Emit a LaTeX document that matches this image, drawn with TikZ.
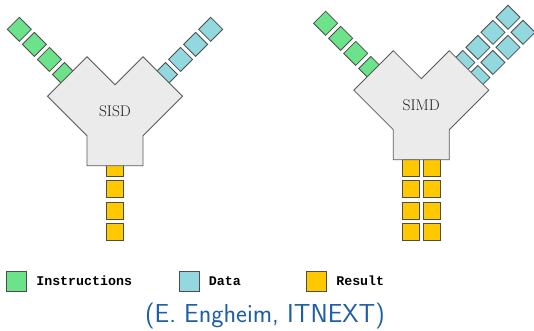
\documentclass[tikz,border=0pt]{standalone}
\usepackage{fontspec}
\newfontfamily\legendfont{Liberation Mono}
\usetikzlibrary{positioning,calc}
\definecolor{InstrGreen}{RGB}{108,227,138}
\definecolor{DataBlue}{RGB}{146,216,222}
\definecolor{ResultYellow}{RGB}{255,200,0}
\definecolor{CoreGray}{RGB}{235,235,235}
\definecolor{CaptionBlue}{RGB}{30,94,166}
\tikzset{
  cell/.style={
    draw=black!70,
    minimum size=17pt,
    inner sep=0pt,
    line width=0.8pt,
  },
  instr cell/.style={cell,fill=InstrGreen,rotate=45},
  data cell/.style={cell,fill=DataBlue,rotate=45},
  result cell/.style={cell,fill=ResultYellow},
  core/.style={
    draw=black!65,
    fill=CoreGray,
    line width=0.8pt,
    line join=miter,
  },
  core label/.style={font=\fontsize{15.5}{17}\selectfont,text=black!88},
  key box/.style={cell,minimum size=20pt},
  key text/.style={font=\legendfont\bfseries\fontsize{13.3}{15}\selectfont,inner sep=1pt},
}

\begin{document}
\begin{tikzpicture}[x=1pt,y=-1pt]
\useasboundingbox (0,0) rectangle (534,330);

\coordinate (sisd) at (115,84.7);
\coordinate (simd) at (421.3,78.7);

% SISD: one stream of instructions, one of data, one of results
\foreach \k in {0,...,3} {
  \node[instr cell] (sisd-i\k) at ($(sisd)+(-95.7,-55.4)+(15.06*\k,15.06*\k)$) {};
  \node[data cell] (sisd-d\k) at ($(sisd)+(95.7,-55.4)+(-15.06*\k,15.06*\k)$) {};
  \node[result cell] (sisd-r\k) at (114.7,168+21.3*\k) {};
}

\draw[core,shift={(sisd)}] (0,0) -- (28,-28) -- (67.5,11.5) -- (28,51) -- (28,81)
  -- (-28,81) -- (-28,51) -- (-67.5,11.5) -- (-28,-28) -- cycle;
\node[core label] (sisd-core) at ($(sisd)+(0,27)$) {SISD};

% SIMD: data and results come two at a time
\foreach \k in {0,...,3} {
  \node[instr cell] (simd-i\k) at ($(simd)+(-95.7,-55.4)+(15.06*\k,15.06*\k)$) {};
  \node[data cell] (simd-da\k) at ($(simd)+(86.7,-61.4)+(-15.06*\k,15.06*\k)$) {};
  \node[data cell] (simd-db\k) at ($(simd)+(101.7,-46.4)+(-15.06*\k,15.06*\k)$) {};
  \node[result cell] (simd-ra\k) at (410.8,168+21.3*\k) {};
  \node[result cell] (simd-rb\k) at (431.8,168+21.3*\k) {};
}

\draw[core,shift={(simd)}] (0,0) -- (28,-28) -- (67.5,11.5) -- (28,51) -- (28,81)
  -- (-28,81) -- (-28,51) -- (-67.5,11.5) -- (-28,-28) -- cycle;
\node[core label] (simd-core) at ($(simd)+(0,27)$) {SIMD};

% Legend
\node[key box,fill=InstrGreen] (key-i) at (16.7,281.2) {};
\node[key text,anchor=west,right=8pt of key-i] (key-i-text) {Instructions};
\node[key box,fill=DataBlue] (key-d) at (189.3,281.2) {};
\node[key text,anchor=west,right=8pt of key-d] (key-d-text) {Data};
\node[key box,fill=ResultYellow] (key-r) at (316.7,281.2) {};
\node[key text,anchor=west,right=8pt of key-r] (key-r-text) {Result};

\node[font=\sffamily\fontsize{26}{30}\selectfont,text=CaptionBlue] (credit) at (265,316) {(E. Engheim, ITNEXT)};

\end{tikzpicture}
\end{document}
